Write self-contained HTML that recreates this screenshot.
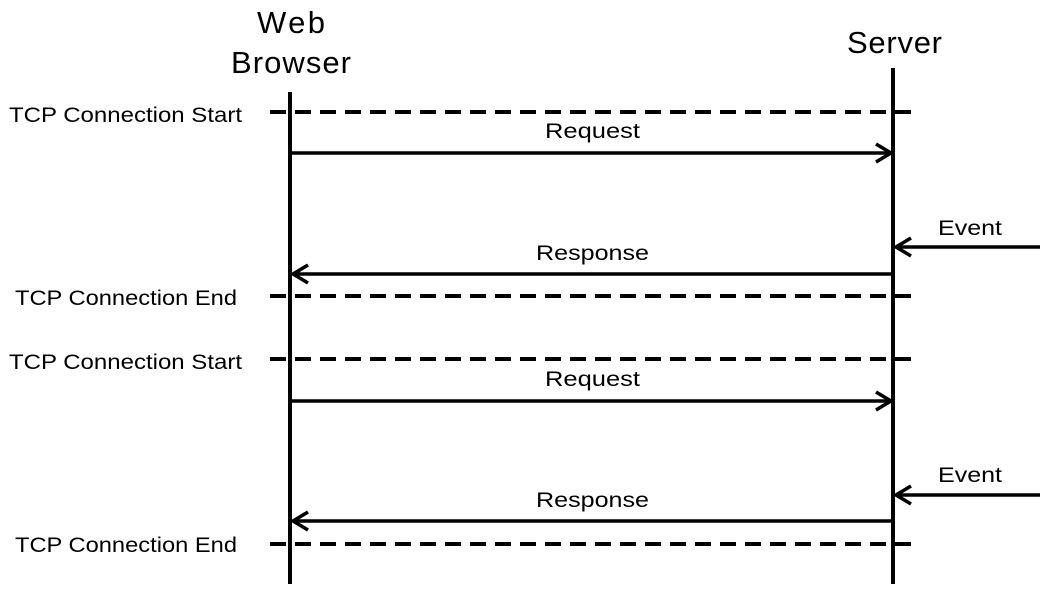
<!DOCTYPE html>
<html><head><style>body{margin:0;background:#fff}</style></head><body>
<svg width="1047" height="590" xmlns="http://www.w3.org/2000/svg" font-family="'Liberation Sans','Noto Sans CJK KR',sans-serif">
<rect width="1047" height="590" fill="#fff"/>
<g font-size="31" fill="#000" lengthAdjust="spacingAndGlyphs">
<text x="257" y="33" textLength="68">Web</text>
<text x="231" y="73" textLength="120">Browser</text>
<text x="847" y="53" textLength="95">Server</text>
</g>
<g stroke="#000" stroke-width="4">
<line x1="290" y1="92" x2="290" y2="584"/>
<line x1="893" y1="68" x2="893" y2="584"/>
</g>
<g stroke="#000" stroke-width="4" stroke-dasharray="16 9" stroke-dashoffset="-3">
<line x1="267" y1="112" x2="913" y2="112"/>
<line x1="267" y1="296" x2="913" y2="296"/>
<line x1="267" y1="359" x2="913" y2="359"/>
<line x1="267" y1="544" x2="913" y2="544"/>
</g>
<g stroke="#000" stroke-width="3.5" fill="none">
<line x1="290" y1="153" x2="891" y2="153"/><polyline points="876,144 891,153 876,162"/>
<line x1="290" y1="401" x2="891" y2="401"/><polyline points="876,392 891,401 876,410"/>
<line x1="293" y1="274" x2="893" y2="274"/><polyline points="308,265 293,274 308,283"/>
<line x1="293" y1="521" x2="893" y2="521"/><polyline points="308,512 293,521 308,530"/>
<line x1="896" y1="247" x2="1040" y2="247"/><polyline points="911,238 896,247 911,256"/>
<line x1="896" y1="495" x2="1040" y2="495"/><polyline points="911,486 896,495 911,504"/>
</g>
<g font-size="21" fill="#000">
<text x="9" y="122" textLength="233" lengthAdjust="spacingAndGlyphs">TCP Connection Start</text>
<text x="15" y="305" textLength="222" lengthAdjust="spacingAndGlyphs">TCP Connection End</text>
<text x="9" y="369" textLength="233" lengthAdjust="spacingAndGlyphs">TCP Connection Start</text>
<text x="15" y="552" textLength="222" lengthAdjust="spacingAndGlyphs">TCP Connection End</text>
<text x="545" y="138" textLength="95" lengthAdjust="spacingAndGlyphs">Request</text>
<text x="545" y="386" textLength="95" lengthAdjust="spacingAndGlyphs">Request</text>
<text x="536" y="260" textLength="113" lengthAdjust="spacingAndGlyphs">Response</text>
<text x="536" y="507" textLength="113" lengthAdjust="spacingAndGlyphs">Response</text>
<text x="938" y="235" textLength="64" lengthAdjust="spacingAndGlyphs">Event</text>
<text x="938" y="482" textLength="64" lengthAdjust="spacingAndGlyphs">Event</text>
</g>
</svg>
</body></html>
